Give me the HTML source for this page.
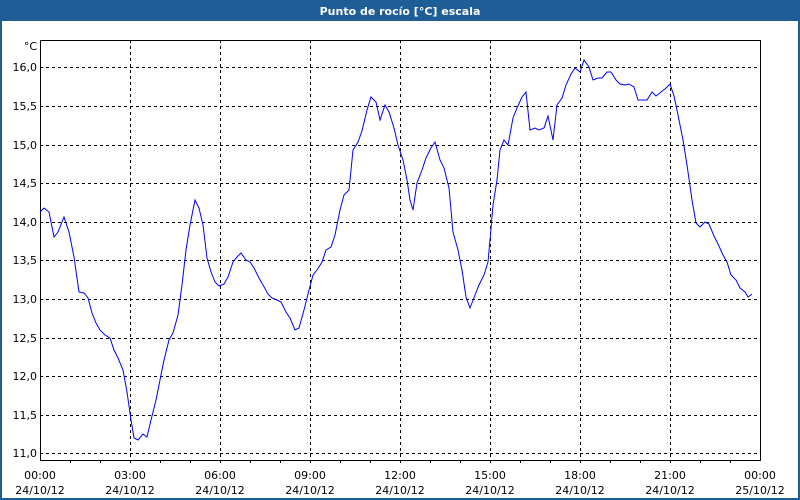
<!DOCTYPE html>
<html><head><meta charset="utf-8"><style>
html,body{margin:0;padding:0;background:#fff}
svg{display:block}
text{font-family:"DejaVu Sans","Liberation Sans",sans-serif;font-size:11px;fill:#000}
</style></head><body>
<svg width="800" height="500" viewBox="0 0 800 500" xmlns="http://www.w3.org/2000/svg">
<rect x="0" y="0" width="800" height="500" fill="#1e5d96"/>
<rect x="2" y="21" width="796" height="477" fill="#fff"/>
<text x="400" y="15" text-anchor="middle" style="fill:#fff;font-weight:bold;font-size:11px">Punto de rocío [°C] escala</text>
<g stroke="#000" stroke-width="1" stroke-dasharray="3,3" shape-rendering="crispEdges">
<line x1="40" y1="67.5" x2="760" y2="67.5"/><line x1="40" y1="106.5" x2="760" y2="106.5"/>
<line x1="40" y1="145.5" x2="760" y2="145.5"/><line x1="40" y1="183.5" x2="760" y2="183.5"/>
<line x1="40" y1="222.5" x2="760" y2="222.5"/><line x1="40" y1="260.5" x2="760" y2="260.5"/>
<line x1="40" y1="299.5" x2="760" y2="299.5"/><line x1="40" y1="338.5" x2="760" y2="338.5"/>
<line x1="40" y1="376.5" x2="760" y2="376.5"/><line x1="40" y1="415.5" x2="760" y2="415.5"/>
<line x1="40" y1="453.5" x2="760" y2="453.5"/>
<line x1="130.5" y1="40" x2="130.5" y2="460"/><line x1="220.5" y1="40" x2="220.5" y2="460"/>
<line x1="310.5" y1="40" x2="310.5" y2="460"/><line x1="400.5" y1="40" x2="400.5" y2="460"/>
<line x1="490.5" y1="40" x2="490.5" y2="460"/><line x1="580.5" y1="40" x2="580.5" y2="460"/>
<line x1="670.5" y1="40" x2="670.5" y2="460"/>
</g>
<g stroke="#000" stroke-width="1" fill="none" shape-rendering="crispEdges">
<polyline points="40.5,40.5 760.5,40.5 760.5,460.5 40.5,460.5 40.5,40.5"/>
<path d="M70.5,460v3M100.5,460v3M130.5,460v3M160.5,460v3M190.5,460v3M220.5,460v3M250.5,460v3M280.5,460v3M310.5,460v3M340.5,460v3M370.5,460v3M400.5,460v3M430.5,460v3M460.5,460v3M490.5,460v3M520.5,460v3M550.5,460v3M580.5,460v3M610.5,460v3M640.5,460v3M670.5,460v3M700.5,460v3M730.5,460v3"/>
</g>
<g text-anchor="end">
<text x="37" y="50">°C</text>
<text x="37" y="71">16,0</text><text x="37" y="110">15,5</text><text x="37" y="149">15,0</text>
<text x="37" y="187">14,5</text><text x="37" y="226">14,0</text><text x="37" y="264">13,5</text>
<text x="37" y="303">13,0</text><text x="37" y="342">12,5</text><text x="37" y="380">12,0</text>
<text x="37" y="419">11,5</text><text x="37" y="457">11,0</text>
</g>
<g text-anchor="middle">
<text x="40" y="479">00:00</text><text x="40" y="494">24/10/12</text>
<text x="130" y="479">03:00</text><text x="130" y="494">24/10/12</text>
<text x="220" y="479">06:00</text><text x="220" y="494">24/10/12</text>
<text x="310" y="479">09:00</text><text x="310" y="494">24/10/12</text>
<text x="400" y="479">12:00</text><text x="400" y="494">24/10/12</text>
<text x="490" y="479">15:00</text><text x="490" y="494">24/10/12</text>
<text x="580" y="479">18:00</text><text x="580" y="494">24/10/12</text>
<text x="670" y="479">21:00</text><text x="670" y="494">24/10/12</text>
<text x="760" y="479">00:00</text><text x="760" y="494">25/10/12</text>
</g>
<polyline fill="none" stroke="#0000ff" stroke-width="1" points="40,212 44,208 49,212 54,237 58,232 64,217 69,232 74,257 79,292 84,293 88,298 92,313 96,323 100,330 105,335 110,338 114,350 118,358 123,370 127,392 131,420 134,438 138,440 143,434 147,437 151,420 156,400 160,380 164,360 169,340 173,333 178,315 182,285 186,250 190,225 195,200 199,208 203,225 207,258 211,272 215,282 219,286 224,284 228,277 233,262 237,257 241,253 246,260 250,262 254,268 259,278 263,285 268,294 272,298 277,300 281,302 286,312 290,318 295,330 299,328 304,310 308,294 313,275 317,270 322,262 326,250 331,247 335,235 340,210 344,195 349,190 353,150 358,142 362,131 367,110 371,97 376,102 380,120 385,105 389,112 394,128 398,145 403,160 407,180 410,200 413,210 417,183 422,170 426,158 431,148 435,142 440,160 444,168 449,188 453,232 458,250 462,270 466,297 470,308 475,295 479,285 484,275 488,262 490,240 493,205 497,180 500,150 504,140 508,145 513,118 517,108 522,97 526,92 530,130 535,128 539,130 544,128 548,116 553,140 557,105 562,98 566,85 571,74 575,68 580,72 584,60 589,67 593,80 598,78 602,78 607,72 611,72 616,80 620,84 625,85 629,84 634,87 638,100 643,100 647,100 652,92 656,96 661,92 665,89 670,84 674,96 678,115 683,140 687,165 692,200 696,223 700,227 705,222 709,224 714,236 718,244 723,255 727,262 731,275 736,280 740,288 745,292 748,297 752,294"/>
</svg>
</body></html>
